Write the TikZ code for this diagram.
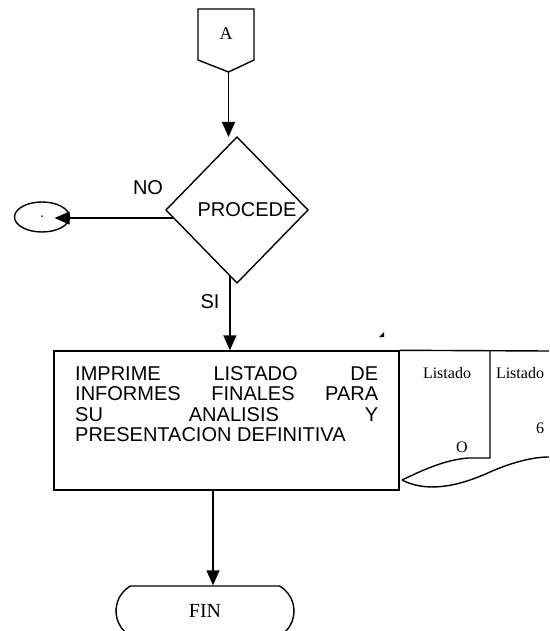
\documentclass[tikz,border=0pt]{standalone}
\usepackage{fontspec}
\setmainfont{Liberation Serif}
\newfontfamily\arialf{Liberation Sans}
\usetikzlibrary{arrows.meta,shapes.geometric,shapes.misc,calc}
\begin{document}
\begin{tikzpicture}[x=1pt,y=-1pt,
  ln/.style={line width=1.4pt},
  arr/.style={ln,-{Triangle[length=15pt,width=13pt]}},
  sans/.style={font=\arialf\fontsize{20}{20.5}\selectfont, inner sep=0pt},
  serif/.style={font=\fontsize{16}{18}\selectfont, inner sep=0pt},
]
\useasboundingbox (0,0) rectangle (549,631);
\clip (0,0) rectangle (549,631);
% off-page connector A
\coordinate (Ap) at (228.5,72);
\draw[ln] (198,9) -- (254,9) -- (254,60) -- (Ap) -- (198,60) -- cycle;
\node[font=\fontsize{18}{20}\selectfont, inner sep=0pt] (A) at (226,34) {A};
% decision
\coordinate (dT) at (237,137);
\coordinate (dR) at (308,210);
\coordinate (dB) at (237,283);
\coordinate (dL) at (166,210);
\draw[ln] (dT) -- (dR) -- (dB) -- (dL) -- cycle;
\node[sans] (proc) at (247,210) {PROCEDE};
\node[sans] (no) at (148,188) {NO};
\node[sans] (si) at (210,302) {SI};
% connector ellipse
\node[draw, ln, ellipse, minimum width=55pt, minimum height=30pt, inner sep=0pt,
      font=\arialf\fontsize{14}{14}\selectfont] (E) at (42,217) {.};
\coordinate (Ein) at ($(E.center)!0.45!(E.east)$);
% process box
\node[draw, ln, minimum width=345pt, minimum height=139pt, inner sep=0pt] (P) at (226.5,420.5) {};
\node[sans, anchor=north west, align=left] (T) at (75,366)
  {\makebox[303pt][s]{IMPRIME LISTADO DE}\\
   \makebox[303pt][s]{INFORMES FINALES PARA}\\
   \makebox[303pt][s]{SU ANALISIS Y}\\
   PRESENTACION DEFINITIVA};
% documents
\draw[ln] (P.north east) -- (549,351);
\draw[ln] (490,351) -- (490,458) -- (468,458) .. controls (445,460) and (425,469) .. (402,480);
\draw[ln] (402,480) .. controls (425,492) and (455,488) .. (490,472) .. controls (515,461) and (535,457) .. (549,457);
\node[serif] (l1) at (447,373) {Listado};
\node[serif] (o1) at (462,447) {O};
\node[serif] (l2) at (520,373) {Listado};
\node[serif] (s6) at (540,428) {6};
\fill (379,337) -- (384,337) -- (384,332) -- cycle;
% terminal
\node[draw, ln, rounded rectangle, rounded rectangle arc length=120, minimum width=178pt,
      minimum height=50pt, inner sep=0pt, font=\fontsize{20}{22}\selectfont] (F) at (205,611) {FIN};
% connectors
\draw[arr] (Ap) -- (Ap |- dT);
\coordinate (dno) at ($(dL)!0.11!(dB)$);
\draw[arr] (dno) -- (dno -| Ein);
\coordinate (dsi) at ($(dL)!0.9!(dB)$);
\draw[arr] (dsi) -- (dsi |- P.north);
\coordinate (pf) at ($(P.south west)!(213,0)!(P.south east)$);
\draw[arr] (pf) -- (pf |- F.north);
\end{tikzpicture}
\end{document}
